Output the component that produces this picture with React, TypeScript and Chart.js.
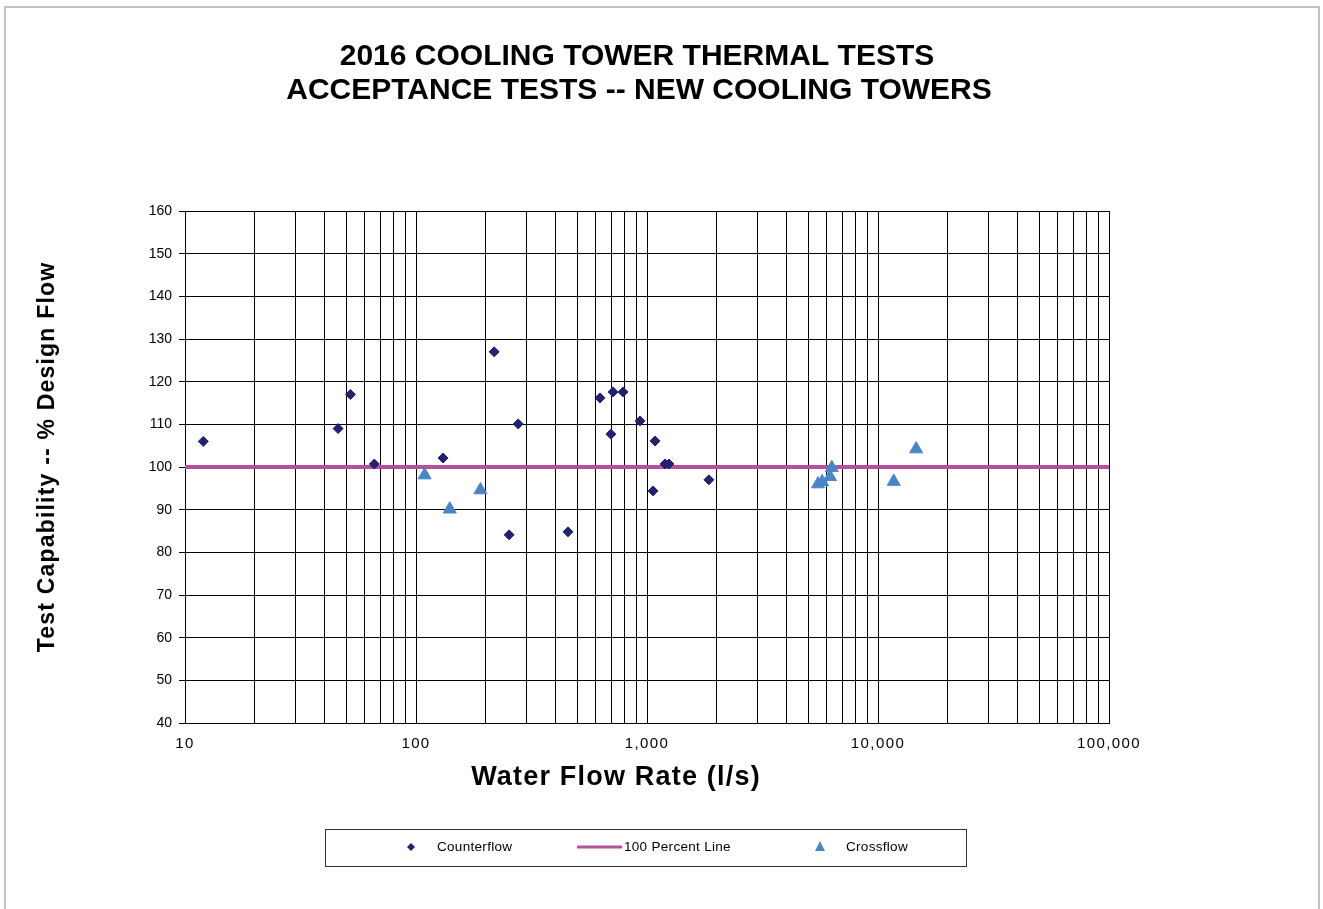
import React, { useEffect, useRef } from 'react';
import { Chart, registerables } from 'chart.js';

Chart.register(...registerables);

// ---- Data ----
const counterflowFlow = [12, 46, 52, 66, 131, 218, 253, 277, 455, 626, 713, 788, 698, 933, 1084, 1062, 1197, 1245, 1853];
const counterflowCapability = [106, 109, 117, 100.7, 102.1, 127, 84.1, 110.1, 84.8, 116.2, 117.6, 117.6, 107.7, 110.8, 106.1, 94.4, 100.7, 100.7, 97.0];
const crossflowFlow = [109, 140, 190, 5500, 5730, 6200, 6310, 11700, 14630];
const crossflowCapability = [98.1, 90.1, 94.6, 96.0, 96.5, 97.7, 99.8, 96.6, 104.2];
const percentLineFlow = [10, 100000];
const percentLineValue = [100, 100];
const xMajorTicks = [10, 100, 1000, 10000, 100000];
const xTickLabels = ['10', '100', '1,000', '10,000', '100,000'];
const xMinorMultipliers = [2, 3, 4, 5, 6, 7, 8, 9];
const titleLines = ['2016 COOLING TOWER THERMAL TESTS', 'ACCEPTANCE TESTS -- NEW COOLING TOWERS'];
const xTitle = 'Water Flow Rate (l/s)';
const yTitle = 'Test Capability -- % Design Flow';
const legendLabels = ['Counterflow', '100 Percent Line', 'Crossflow'];

const COUNTER_COLOR = '#22226f';
const CROSS_COLOR = '#4a85c6';
const LINE_COLOR = '#b6509d';
const FONT = '"Liberation Sans", Arial, sans-serif';

const xGridValues: number[] = [];
xMajorTicks.forEach((m, i) => {
  xGridValues.push(m);
  if (i < xMajorTicks.length - 1) xMinorMultipliers.forEach((k) => xGridValues.push(m * k));
});
xGridValues.sort((a, b) => a - b);

const decorPlugin = {
  id: 'decor',
  beforeDraw(chart: any) {
    const ctx = chart.ctx;
    const xs = chart.scales.x;
    if (xs && !xs.__spaced) {
      const orig = xs.drawLabels.bind(xs);
      xs.drawLabels = (area: any) => {
        ctx.save();
        ctx.letterSpacing = '1.4px';
        orig(area);
        ctx.restore();
        ctx.letterSpacing = '0px';
      };
      xs.__spaced = true;
    }
  },
  afterDraw(chart: any) {
    const ctx = chart.ctx as CanvasRenderingContext2D;
    ctx.save();
    // outer frame
    ctx.fillStyle = '#c4c4c4';
    ctx.fillRect(4, 6, 2, 903);
    ctx.fillRect(4, 6, 1316, 2);
    ctx.fillRect(1318, 6, 2, 903);

    ctx.fillStyle = '#000';
    ctx.textBaseline = 'middle';
    ctx.textAlign = 'center';
    // main title
    (ctx as any).letterSpacing = '0px';
    ctx.font = `bold 30px ${FONT}`;
    ctx.fillText(titleLines[0], 637, 57);
    ctx.fillText(titleLines[1], 639, 91);

    // x title
    (ctx as any).letterSpacing = '1.2px';
    ctx.font = `bold 27px ${FONT}`;
    ctx.fillText(xTitle, 616, 778);

    // y title
    (ctx as any).letterSpacing = '1.2px';
    ctx.font = `bold 23px ${FONT}`;
    ctx.save();
    ctx.translate(48, 457);
    ctx.rotate(-Math.PI / 2);
    ctx.fillText(yTitle, 0, 0);
    ctx.restore();

    // legend
    ctx.strokeStyle = '#333';
    ctx.lineWidth = 1;
    ctx.strokeRect(325.5, 829.5, 641, 37);
    const ly = 847;
    // diamond
    ctx.fillStyle = COUNTER_COLOR;
    ctx.beginPath();
    ctx.moveTo(411, ly - 4);
    ctx.lineTo(415, ly);
    ctx.lineTo(411, ly + 4);
    ctx.lineTo(407, ly);
    ctx.closePath();
    ctx.fill();
    // line
    ctx.strokeStyle = LINE_COLOR;
    ctx.lineWidth = 3;
    ctx.beginPath();
    ctx.moveTo(577, ly);
    ctx.lineTo(622, ly);
    ctx.stroke();
    // triangle
    ctx.fillStyle = CROSS_COLOR;
    ctx.beginPath();
    ctx.moveTo(820, ly - 6);
    ctx.lineTo(825, ly + 4);
    ctx.lineTo(815, ly + 4);
    ctx.closePath();
    ctx.fill();

    ctx.fillStyle = '#000';
    ctx.textAlign = 'left';
    (ctx as any).letterSpacing = '0.3px';
    ctx.font = `13.5px ${FONT}`;
    ctx.fillText(legendLabels[0], 437, ly);
    ctx.fillText(legendLabels[1], 624, ly);
    ctx.fillText(legendLabels[2], 846, ly);
    ctx.restore();
    (ctx as any).letterSpacing = '0px';
  },
};

export default function App() {
  const ref = useRef<HTMLCanvasElement>(null);

  useEffect(() => {
    const canvas = ref.current;
    if (!canvas) return;
    const chart = new Chart(canvas, {
      type: 'scatter',
      data: {
        datasets: [
          {
            label: legendLabels[0],
            data: counterflowFlow.map((x, i) => ({ x, y: counterflowCapability[i] })),
            pointStyle: 'rectRot',
            pointRadius: 5,
            pointBackgroundColor: COUNTER_COLOR,
            pointBorderColor: COUNTER_COLOR,
            pointBorderWidth: 1,
            order: 1,
          },
          {
            label: legendLabels[1],
            type: 'line',
            data: percentLineFlow.map((x, i) => ({ x, y: percentLineValue[i] })),
            showLine: true,
            borderColor: LINE_COLOR,
            borderWidth: 4,
            pointRadius: 0,
            fill: false,
            order: 3,
          } as any,
          {
            label: legendLabels[2],
            data: crossflowFlow.map((x, i) => ({ x, y: crossflowCapability[i] })),
            pointStyle: 'triangle',
            pointRadius: 7.5,
            pointBackgroundColor: CROSS_COLOR,
            pointBorderColor: CROSS_COLOR,
            pointBorderWidth: 1,
            order: 1,
          },
        ],
      },
      options: {
        responsive: false,
        animation: false,
        devicePixelRatio: 1,
        layout: { padding: { top: 211, left: 125, right: 214, bottom: 146 } },
        plugins: {
          legend: { display: false },
          title: { display: false },
          tooltip: { enabled: false },
        },
        scales: {
          x: {
            type: 'logarithmic',
            min: 10,
            max: 100000,
            afterBuildTicks: (scale: any) => {
              scale.ticks = xGridValues.map((v) => ({ value: v }));
            },
            afterFit: (scale: any) => {
              scale.height = 40;
            },
            ticks: {
              autoSkip: false,
              maxRotation: 0,
              minRotation: 0,
              padding: 12,
              color: '#000',
              font: { family: FONT, size: 15 },
              callback: (value: any) => {
                const i = xMajorTicks.indexOf(Number(value));
                return i >= 0 ? xTickLabels[i] : '';
              },
            },
            grid: { color: '#000', lineWidth: 1, drawTicks: false },
            border: { color: '#000', width: 1 },
          },
          y: {
            type: 'linear',
            min: 40,
            max: 160,
            afterFit: (scale: any) => {
              scale.width = 60;
            },
            ticks: {
              stepSize: 10,
              padding: 7,
              color: '#000',
              font: { family: FONT, size: 14 },
            },
            grid: { color: '#000', lineWidth: 1, tickLength: 6 },
            border: { color: '#000', width: 1 },
          },
        },
      },
      plugins: [decorPlugin],
    });
    return () => chart.destroy();
  }, []);

  return (
    <div style={{ position: 'absolute', left: 0, top: 0, width: 1323, height: 909, background: '#fff' }}>
      <canvas ref={ref} width={1323} height={909} style={{ display: 'block', width: 1323, height: 909 }} />
    </div>
  );
}
